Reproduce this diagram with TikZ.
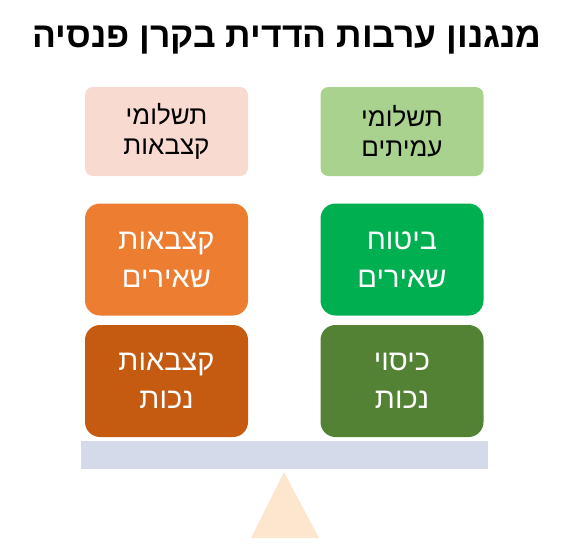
\documentclass[tikz,border=0pt]{standalone}
\usepackage{fontspec}
\setmainfont{Liberation Sans}
\newfontfamily\hebfont[Script=Hebrew]{Liberation Sans}
\TeXXeTstate=1
\usetikzlibrary{positioning}
\definecolor{paypink}{HTML}{F8DAD1}
\definecolor{paygreen}{HTML}{AAD28F}
\definecolor{survorange}{HTML}{ED7D31}
\definecolor{survgreen}{HTML}{00B050}
\definecolor{disorange}{HTML}{C55A11}
\definecolor{disgreen}{HTML}{548235}
\definecolor{beamblue}{HTML}{D5DAEB}
\definecolor{pivotpeach}{HTML}{FDE6CE}
\newcommand{\rl}[1]{\beginR #1\endR}
\begin{document}
\begin{tikzpicture}[x=1pt,y=1pt]
\tikzstyle{every node}+=[inner sep=0pt]
\tikzstyle{paybox}=[rounded corners=8pt, minimum width=163pt, minimum height=89pt, align=center, text=black, font=\hebfont\fontsize{26}{30}\selectfont]
\tikzstyle{bigbox}=[rounded corners=15pt, minimum width=163pt, minimum height=112pt, align=center, text=white, font=\hebfont\fontsize{29}{38}\selectfont]
\useasboundingbox (0,0) rectangle (573,-547);
\node [anchor=base, font=\hebfont\bfseries\fontsize{35.5}{40}\selectfont] (title) at (287,-47) {\rl{מנגנון ערבות הדדית בקרן פנסיה}};
\node [paybox, fill=paypink] (payann) at (166.5,-131.5) {\rl{תשלומי}\\\rl{קצבאות}};
\node [paybox, fill=paygreen] (paymem) at (402,-131.5) {\rl{תשלומי}\\\rl{עמיתים}};
\node [bigbox, fill=survorange] (survann) at (166.5,-259.5) {\rl{קצבאות}\\\rl{שאירים}};
\node [bigbox, fill=survgreen] (survins) at (402,-259.5) {\rl{ביטוח}\\\rl{שאירים}};
\node [bigbox, fill=disorange] (disann) at (166.5,-381) {\rl{קצבאות}\\\rl{נכות}};
\node [bigbox, fill=disgreen] (discov) at (402,-381) {\rl{כיסוי}\\\rl{נכות}};
\fill [beamblue] (81,-441) rectangle (488,-469);
\fill [pivotpeach] (284,-472) -- (319,-538) -- (251,-538) -- cycle;
\end{tikzpicture}
\end{document}
